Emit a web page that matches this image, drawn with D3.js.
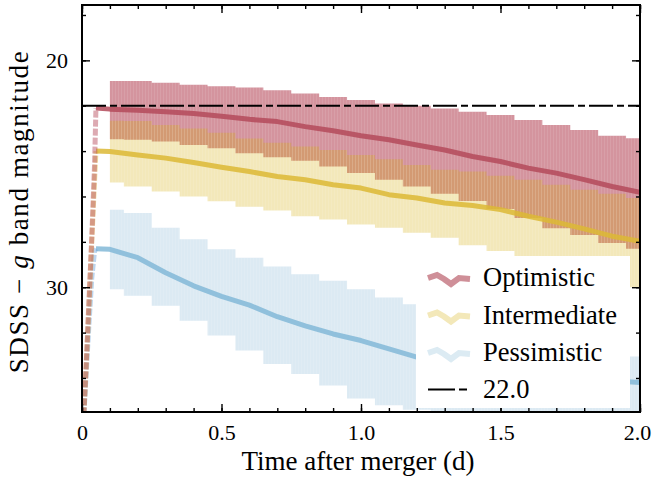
<!DOCTYPE html>
<html>
<head>
<meta charset="utf-8">
<script src="https://cdn.jsdelivr.net/npm/d3@7"></script>
<style>
  body { margin: 0; background: #fff; }
</style>
</head>
<body>
<div id="chart"></div>
<script>
// time grid of the error bars (days)
const bandTimes = [0.1, 0.2, 0.3, 0.4, 0.5, 0.6, 0.7, 0.8, 0.9, 1.0,
                   1.1, 1.2, 1.3, 1.4, 1.5, 1.6, 1.7, 1.8, 1.9, 2.0];
// rising part right after the merger
const riseTimes = [0.005, 0.015, 0.025, 0.035, 0.045, 0.05];

// Optimistic
const optRise  = [36.0, 33.4, 30.6, 27.8, 24.6, 22.1];
const optMid   = [22.15, 22.2, 22.27, 22.34, 22.46, 22.6, 22.7, 22.92, 23.1, 23.32,
                  23.5, 23.73, 23.95, 24.24, 24.46, 24.75, 24.97, 25.26, 25.56, 25.82];
const optHigh  = [20.91, 20.91, 20.99, 21.07, 21.14, 21.2, 21.32, 21.46, 21.61, 21.75,
                  21.9, 22.0, 22.12, 22.27, 22.41, 22.63, 22.85, 23.07, 23.32, 23.43];
const optLow   = [23.48, 23.5, 23.58, 23.73, 23.87, 24.09, 24.27, 24.42, 24.68, 24.97,
                  25.26, 25.56, 25.88, 26.2, 26.55, 26.95, 27.4, 27.7, 28.05, 28.3];

// Intermediate
const intRise  = [36.0, 33.5, 30.8, 28.0, 25.3, 24.0];
const intMid   = [24.02, 24.17, 24.31, 24.5, 24.71, 24.9, 25.12, 25.26, 25.48, 25.63,
                  25.92, 26.07, 26.29, 26.4, 26.58, 26.87, 27.13, 27.43, 27.75, 27.97];
const intHigh  = [22.66, 22.67, 22.85, 23.0, 23.19, 23.44, 23.63, 23.8, 23.95, 24.17,
                  24.36, 24.61, 24.82, 24.9, 25.09, 25.26, 25.48, 25.7, 25.88, 26.07];
const intLow   = [25.38, 25.56, 25.78, 26.0, 26.21, 26.45, 26.62, 26.87, 27.02, 27.24,
                  27.38, 27.6, 27.82, 28.15, 28.4, 28.7, 29.0, 29.3, 29.6, 30.0];

// Pessimistic
const pesRise  = [36.0, 33.8, 31.6, 29.6, 28.4, 28.3];
const pesMid   = [28.33, 28.7, 29.36, 29.94, 30.4, 30.79, 31.3, 31.7, 32.06, 32.35,
                  32.72, 33.08, 33.35, 33.55, 33.7, 33.85, 33.95, 34.05, 34.12, 34.2];
const pesHigh  = [26.58, 26.73, 27.38, 27.89, 28.33, 28.7, 29.09, 29.43, 29.72, 30.09,
                  30.45, 30.75, 31.05, 31.35, 31.65, 31.95, 32.25, 32.5, 32.8, 33.05];
const pesLow   = [30.09, 30.38, 30.82, 31.48, 32.13, 32.79, 33.38, 33.82, 34.33, 34.91,
                  35.2, 35.4, 35.7, 36.0, 36.0, 36.0, 36.0, 36.0, 36.0, 36.0];

const threshold = 22.0;
const xTicks = [0, 0.5, 1.0, 1.5, 2.0];
const yTicks = [20, 30];

const series = [
  {name: "Optimistic",   rise: optRise, mid: optMid, high: optHigh, low: optLow,
   band: "#bb5566", bandOpacity: 0.63, line: "#b44a5a", rc: "#bb5566", legend: "#cf8f98"},
  {name: "Intermediate", rise: intRise, mid: intMid, high: intHigh, low: intLow,
   band: "#d4a900", bandOpacity: 0.27, line: "#dcb935", rc: "#ddbb44", legend: "#f3e8b9"},
  {name: "Pessimistic",  rise: pesRise, mid: pesMid, high: pesHigh, low: pesLow,
   band: "#73abcf", bandOpacity: 0.25, line: "#82b9d7", rc: "#77aadd", legend: "#dcebf3"}
];

const font = "'Liberation Serif', 'DejaVu Serif', serif";

const W = 653, H = 484;
const margin = {top: 5, right: 13, bottom: 72, left: 82};
const width = W - margin.left - margin.right;
const height = H - margin.top - margin.bottom;

const svg = d3.select("#chart").append("svg")
  .attr("width", W).attr("height", H);

const defs = svg.append("defs");
defs.append("clipPath").attr("id", "plotclip")
  .append("rect").attr("width", width).attr("height", height);
const pat = defs.append("pattern").attr("id", "bars")
  .attr("patternUnits", "userSpaceOnUse").attr("width", 3).attr("height", 10);
pat.append("rect").attr("x", 0).attr("width", 1).attr("height", 10)
  .attr("fill", "#fff").attr("opacity", 0.1);

const g = svg.append("g").attr("transform", `translate(${margin.left},${margin.top})`);

const x = d3.scaleLinear().domain([0, 2.0]).range([0, width]);
const y = d3.scaleLinear().domain([17.56, 35.5]).range([0, height]);

const plot = g.append("g").attr("clip-path", "url(#plotclip)");

const area = d3.area()
  .x((d, i) => x(bandTimes[i]))
  .y0(d => y(d[0]))
  .y1(d => y(d[1]))
  .curve(d3.curveStep);

const line = d3.line().x(d => x(d[0])).y(d => y(d[1]));

series.forEach(s => {
  const bandData = s.high.map((h, i) => [h, s.low[i]]);
  plot.append("path").datum(bandData)
    .attr("d", area)
    .attr("fill", s.band).attr("fill-opacity", s.bandOpacity);
  plot.append("path").datum(bandData)
    .attr("d", area)
    .attr("fill", "url(#bars)");

  const midPts = [[riseTimes[riseTimes.length - 1], s.rise[s.rise.length - 1]]]
    .concat(bandTimes.map((t, i) => [t, s.mid[i]]));
  plot.append("path").datum(midPts)
    .attr("d", line)
    .attr("fill", "none").attr("stroke", s.line).attr("stroke-opacity", 0.85)
    .attr("stroke-width", 5).attr("stroke-linejoin", "round");
});

// the rising branches, drawn over each other
series.slice().reverse().forEach(s => {
  const risePts = riseTimes.map((t, i) => [t, s.rise[i]]);
  plot.append("path").datum(risePts)
    .attr("d", line)
    .attr("fill", "none").attr("stroke", s.rc).attr("stroke-opacity", 0.5)
    .attr("stroke-width", 5).attr("stroke-dasharray", "7,2");
});

// 22 mag threshold
plot.append("line")
  .attr("x1", 0).attr("x2", width)
  .attr("y1", y(threshold)).attr("y2", y(threshold))
  .attr("stroke", "#000").attr("stroke-width", 2)
  .attr("stroke-dasharray", "24,4,7,4");

// axes (ticks pointing inwards on all sides)
function styleAxis(sel) {
  sel.attr("font-family", font);
  sel.select(".domain").remove();
  sel.selectAll(".tick line").attr("stroke", "#000").attr("stroke-width", 1.4);
  sel.selectAll(".tick text").attr("font-size", 22).attr("font-family", font);
}
const xMinor = d3.range(0, 2.0001, 0.1);
const yMinor = d3.range(18, 35, 2);

const xAxis = g.append("g").attr("transform", `translate(0,${height})`)
  .call(d3.axisBottom(x).tickValues(xTicks).tickSize(-8).tickPadding(12)
    .tickFormat(d => d === 0 ? "0" : d.toFixed(1)))
  .call(styleAxis);
xAxis.selectAll(".tick text").filter(d => d === 2.0).attr("dx", -3);
g.append("g").attr("transform", `translate(0,${height})`)
  .call(d3.axisBottom(x).tickValues(xMinor).tickSize(-4).tickFormat(""))
  .call(styleAxis);
g.append("g")
  .call(d3.axisTop(x).tickValues(xTicks).tickSize(-8).tickFormat(""))
  .call(styleAxis);
g.append("g")
  .call(d3.axisTop(x).tickValues(xMinor).tickSize(-4).tickFormat(""))
  .call(styleAxis);

g.append("g")
  .call(d3.axisLeft(y).tickValues(yTicks).tickSize(-8).tickPadding(14))
  .call(styleAxis);
g.append("g")
  .call(d3.axisLeft(y).tickValues(yMinor).tickSize(-4).tickFormat(""))
  .call(styleAxis);
g.append("g").attr("transform", `translate(${width},0)`)
  .call(d3.axisRight(y).tickValues(yTicks).tickSize(-8).tickFormat(""))
  .call(styleAxis);
g.append("g").attr("transform", `translate(${width},0)`)
  .call(d3.axisRight(y).tickValues(yMinor).tickSize(-4).tickFormat(""))
  .call(styleAxis);

// legend
const leg = g.append("g");
leg.append("rect")
  .attr("x", 334).attr("y", 251).attr("width", 214).attr("height", 152)
  .attr("fill", "#fff");
const wave = [[0, 1], [9, -2], [16, 2], [23, 7], [31, 1], [42, 2]];
const waveLine = d3.line();
series.forEach((s, i) => {
  const cy = 272 + i * 37.5;
  leg.append("path")
    .attr("d", waveLine(wave.map(p => [346 + p[0], cy + p[1]])))
    .attr("fill", "none").attr("stroke", s.legend)
    .attr("stroke-width", 6);
  leg.append("text").attr("x", 401).attr("y", cy + 9)
    .attr("font-size", 26.5).attr("font-family", font).text(s.name);
});
leg.append("line")
  .attr("x1", 346).attr("x2", 388).attr("y1", 384.5).attr("y2", 384.5)
  .attr("stroke", "#000").attr("stroke-width", 2).attr("stroke-dasharray", "27,4,8,4");
leg.append("text").attr("x", 401).attr("y", 393)
  .attr("font-size", 26.5).attr("font-family", font).text(threshold.toFixed(1));

// frame
g.append("rect").attr("width", width).attr("height", height)
  .attr("fill", "none").attr("stroke", "#000").attr("stroke-width", 2);

// axis titles
svg.append("text")
  .attr("x", margin.left + width / 2 - 3).attr("y", 470)
  .attr("text-anchor", "middle").attr("font-size", 27).attr("font-family", font)
  .text("Time after merger (d)");

const yl = svg.append("text")
  .attr("transform", `translate(28,${margin.top + height / 2 + 3}) rotate(-90)`)
  .attr("text-anchor", "middle").attr("font-size", 27).attr("font-family", font)
  .attr("letter-spacing", 1.6);
yl.append("tspan").text("SDSS \u2212 ");
yl.append("tspan").style("font-style", "italic").text("g");
yl.append("tspan").text(" band magnitude");
</script>
</body>
</html>
